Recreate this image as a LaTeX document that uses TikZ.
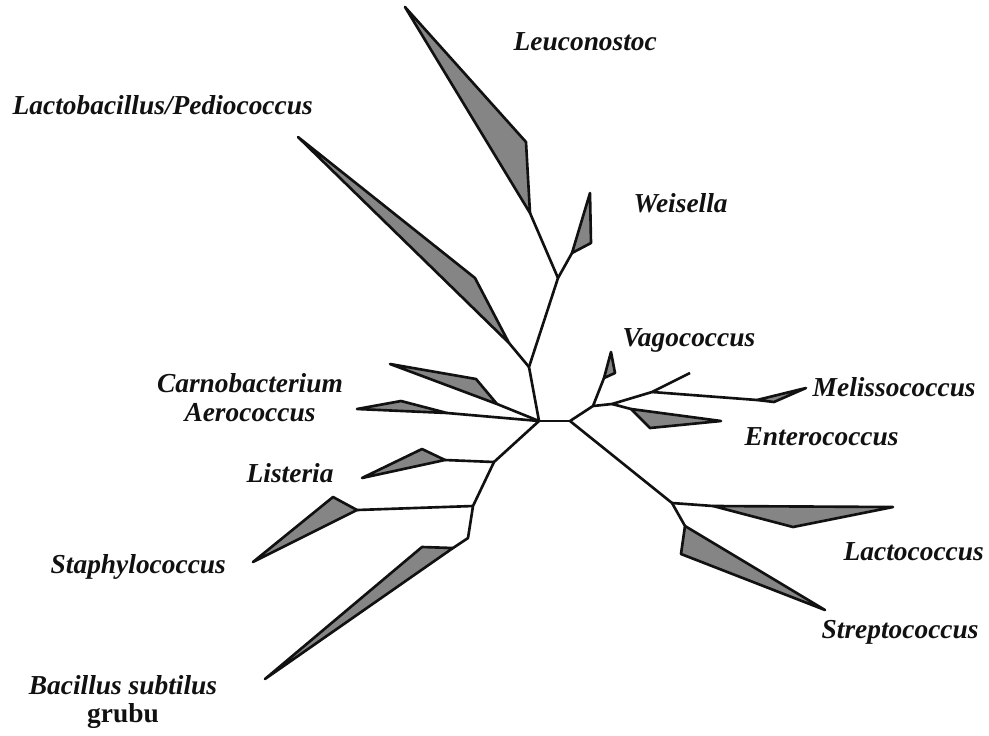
\documentclass[tikz,border=0pt]{standalone}
\usepackage{fontspec}
\setmainfont{Liberation Serif}
\usepackage{xcolor}
\usepackage{tikz}
\definecolor{ink}{HTML}{111111}
\definecolor{clade}{HTML}{858585}
\tikzset{
  treeLine/.style={draw=ink, line width=0.75pt, line join=round},
  cladeFill/.style={fill=clade, draw=ink, line width=0.75pt, line join=round},
  taxonLabel/.style={text=ink, font=\fontsize{7.8}{9}\selectfont\bfseries\itshape, inner sep=0pt, anchor=west}
}

\begin{document}
\begin{tikzpicture}[x=0.1mm, y=-0.1mm]
  \useasboundingbox (0,0) rectangle (989,735);

  % inner nodes of the tree
  \coordinate (rootL) at (539,421);
  \coordinate (rootR) at (570,421);
  \coordinate (lbJ) at (529,367);
  \coordinate (leuJ) at (558,278);
  \coordinate (lisJ) at (494,462);
  \coordinate (staJ) at (473,506);
  \coordinate (bacJ) at (468,538);
  \coordinate (vagJ) at (593,406);
  \coordinate (entJ) at (612,404);
  \coordinate (melJ) at (652,392);
  \coordinate (melEnd) at (690,373);
  \coordinate (lacJ) at (672,503);

  % clade bases
  \coordinate (lbB) at (509,343);
  \coordinate (leuB) at (530,213);
  \coordinate (weiB) at (572,253);
  \coordinate (carB) at (497,404);
  \coordinate (aerB) at (447,413);
  \coordinate (lisB) at (445,460);
  \coordinate (staB) at (357,510);
  \coordinate (bacB) at (453,548);
  \coordinate (vagB) at (604,378);
  \coordinate (melB) at (757,400);
  \coordinate (entB) at (631,409);
  \coordinate (lcoB) at (713,506);
  \coordinate (strB) at (685,526);

  % branches
  \draw[treeLine] (rootL) -- (rootR);
  \draw[treeLine] (rootL) -- (lbJ) -- (leuJ);
  \draw[treeLine] (lbJ) -- (lbB);
  \draw[treeLine] (leuJ) -- (leuB);
  \draw[treeLine] (leuJ) -- (weiB);
  \draw[treeLine] (rootL) -- (carB);
  \draw[treeLine] (rootL) -- (aerB);
  \draw[treeLine] (rootL) -- (lisJ) -- (staJ) -- (bacJ) -- (bacB);
  \draw[treeLine] (lisJ) -- (lisB);
  \draw[treeLine] (staJ) -- (staB);
  \draw[treeLine] (rootR) -- (vagJ) -- (entJ) -- (melJ) -- (melEnd);
  \draw[treeLine] (vagJ) -- (vagB);
  \draw[treeLine] (melJ) -- (melB);
  \draw[treeLine] (entJ) -- (entB);
  \draw[treeLine] (rootR) -- (lacJ) -- (strB);
  \draw[treeLine] (lacJ) -- (lcoB);

  % clades
  \filldraw[cladeFill] (lbB) -- (475,278) -- (298,137) -- cycle;
  \filldraw[cladeFill] (leuB) -- (526,142) -- (405,7) -- cycle;
  \filldraw[cladeFill] (weiB) -- (590,193) -- (591,243) -- cycle;
  \filldraw[cladeFill] (carB) -- (476,379) -- (390,364) -- cycle;
  \filldraw[cladeFill] (aerB) -- (401,401) -- (357,409) -- cycle;
  \filldraw[cladeFill] (lisB) -- (422,449) -- (362,478) -- cycle;
  \filldraw[cladeFill] (staB) -- (333,497) -- (253,562) -- cycle;
  \filldraw[cladeFill] (bacB) -- (422,547) -- (265,679) -- cycle;
  \filldraw[cladeFill] (vagB) -- (611,352) -- (615,373) -- cycle;
  \filldraw[cladeFill] (melB) -- (806,388) -- (774,402) -- cycle;
  \filldraw[cladeFill] (entB) -- (721,421) -- (650,428) -- cycle;
  \filldraw[cladeFill] (lcoB) -- (893,507) -- (793,527) -- cycle;
  \filldraw[cladeFill] (strB) -- (825,610) -- (681,554) -- cycle;

  % taxa
  \node[taxonLabel] (leu) at (513,42) {Leuconostoc};
  \node[taxonLabel] (lb) at (12,105) {Lactobacillus/Pediococcus};
  \node[taxonLabel] (wei) at (633,203) {Weisella};
  \node[taxonLabel] (vag) at (622,340) {Vagococcus};
  \node[taxonLabel] (mel) at (812,387) {Melissococcus};
  \node[taxonLabel] (ent) at (744,437) {Enterococcus};
  \node[taxonLabel, anchor=center] (car) at (250,383) {Carnobacterium};
  \node[taxonLabel, anchor=center] (aer) at (250,413) {Aerococcus};
  \node[taxonLabel] (lis) at (246,473) {Listeria};
  \node[taxonLabel] (sta) at (50,567) {Staphylococcus};
  \node[taxonLabel] (lco) at (843,552) {Lactococcus};
  \node[taxonLabel] (str) at (821,632) {Streptococcus};
  \node[taxonLabel, anchor=center, align=center] (bac) at (123,702) {Bacillus subtilus\\[-1pt]\upshape grubu};
\end{tikzpicture}
\end{document}
